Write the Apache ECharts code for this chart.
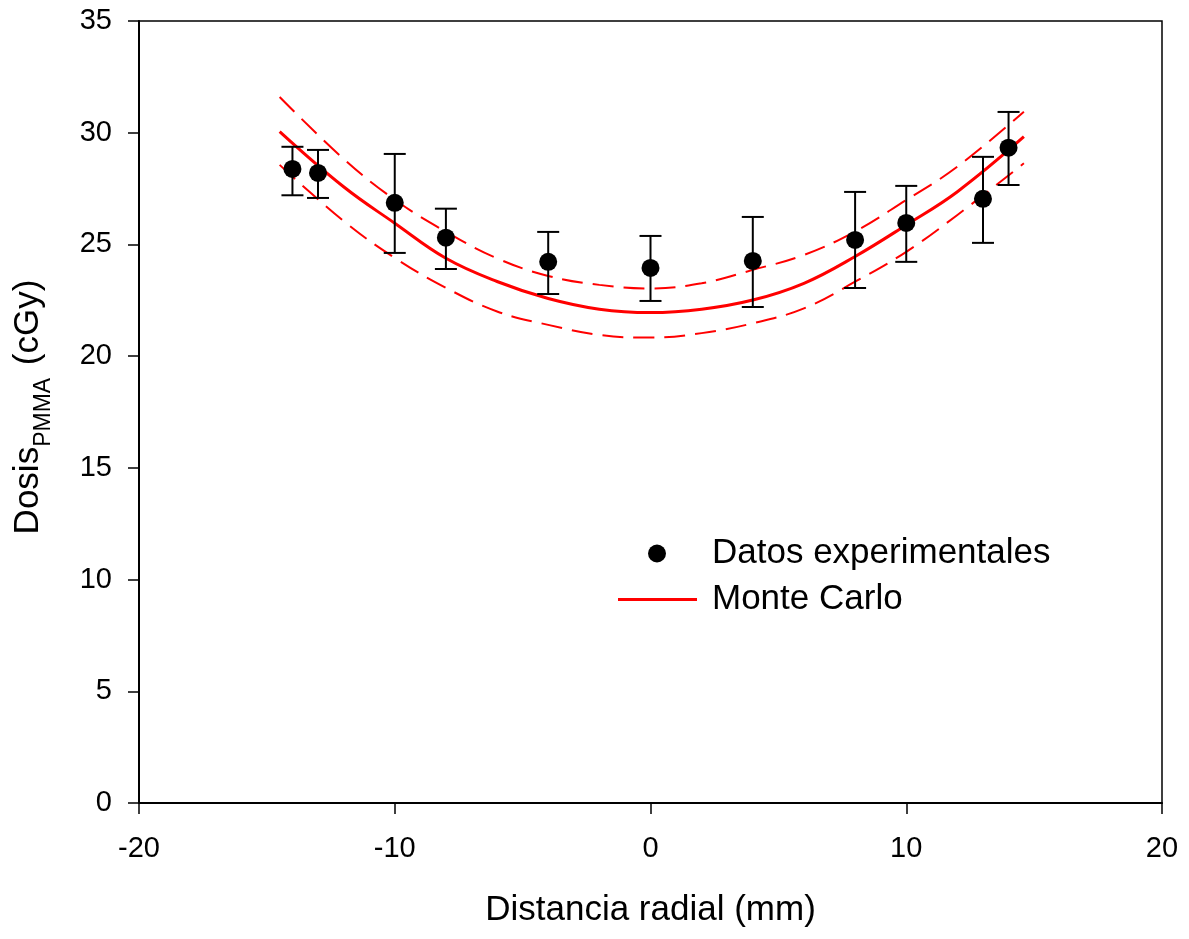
<!DOCTYPE html>
<html>
<head>
<meta charset="utf-8">
<script src="https://cdn.jsdelivr.net/npm/echarts@6/dist/echarts.min.js"></script>
<style>html,body{margin:0;padding:0;background:#fff}#c{width:1189px;height:939px}</style>
</head>
<body>
<div id="c"></div>
<script>
// Experimental data
const expX = [-14, -13, -10, -8, -4, 0, 4, 8, 10, 13, 14];
const expY = [28.38, 28.2, 26.86, 25.3, 24.22, 23.95, 24.26, 25.2, 25.96, 27.04, 29.33];
const expHi = [29.37, 29.23, 29.05, 26.6, 25.56, 25.38, 26.23, 27.35, 27.62, 28.92, 30.93];
const expLo = [27.2, 27.08, 24.62, 23.9, 22.78, 22.47, 22.2, 23.05, 24.22, 25.07, 27.66];

// Monte Carlo curves (central and upper/lower bounds)
const mcX = [-14.5, -12, -10, -8, -6, -4, -2, 0, 2, 4, 6, 8, 10, 12, 14.6];
const mcY = [30.05, 27.58, 25.95, 24.38, 23.34, 22.58, 22.1, 21.95, 22.1, 22.51, 23.26, 24.46, 25.87, 27.36, 29.82];
const mcUp = [31.6, 28.83, 27.0, 25.57, 24.38, 23.59, 23.19, 23.03, 23.26, 23.86, 24.53, 25.58, 26.99, 28.48, 30.94];
const mcLo = [28.56, 26.05, 24.4, 23.06, 22.0, 21.4, 20.95, 20.83, 21.03, 21.47, 22.14, 23.33, 24.67, 26.32, 28.63];

const xTicks = [-20, -10, 0, 10, 20];
const yTicks = [0, 5, 10, 15, 20, 25, 30, 35];

const pairs = (xs, ys) => xs.map((x, i) => [x, ys[i]]);
const font = '"Liberation Sans", Arial, sans-serif';

const chart = echarts.init(document.getElementById('c'));
chart.setOption({
  animation: false,
  backgroundColor: '#fff',
  grid: { left: 139, right: 27, top: 21, bottom: 136, show: true, borderColor: '#000', borderWidth: 1.5, backgroundColor: 'transparent' },
  xAxis: {
    type: 'value', min: xTicks[0], max: xTicks[xTicks.length - 1], interval: 10,
    name: 'Distancia radial (mm)', nameLocation: 'middle', nameGap: 90,
    nameTextStyle: { fontFamily: font, fontSize: 35, color: '#000' },
    axisLine: { show: true, onZero: false, lineStyle: { color: '#000', width: 2 } },
    axisTick: { show: true, inside: false, length: 11, lineStyle: { color: '#000', width: 1.5 } },
    axisLabel: { fontFamily: font, fontSize: 29, color: '#000', margin: 31 },
    splitLine: { show: false }
  },
  yAxis: {
    type: 'value', min: yTicks[0], max: yTicks[yTicks.length - 1], interval: 5,
    name: '{s|Dosis}{b|PMMA}{a| (cGy)}', nameLocation: 'middle', nameGap: 93, nameRotate: 90,
    nameTextStyle: {
      fontFamily: font, fontSize: 35, color: '#000',
      rich: {
        s: { fontFamily: font, fontSize: 35, color: '#000', padding: [0, 0, 0, 10] },
        a: { fontFamily: font, fontSize: 35, color: '#000', padding: [0, 0, 0, 3] },
        b: { fontFamily: font, fontSize: 23, color: '#000', verticalAlign: 'bottom', padding: [0, 0, -9, 0] }
      }
    },
    axisLine: { show: true, onZero: false, lineStyle: { color: '#000', width: 2 } },
    axisTick: { show: true, inside: false, length: 11, lineStyle: { color: '#000', width: 1.5 } },
    axisLabel: { fontFamily: font, fontSize: 29, color: '#000', margin: 27 },
    splitLine: { show: false }
  },
  legend: [
    {
      data: [{ name: 'Datos experimentales', icon: 'circle' }],
      left: 643, top: 531, itemWidth: 18, itemHeight: 18, itemGap: 0,
      textStyle: { fontFamily: font, fontSize: 35, color: '#000', padding: [0, 0, 0, 41] },
      selectedMode: false
    },
    {
      data: [{ name: 'Monte Carlo', icon: 'rect', itemStyle: { color: '#ff0000', borderWidth: 0 } }],
      left: 613, top: 577, itemWidth: 79, itemHeight: 3, itemGap: 0,
      itemStyle: { color: '#ff0000', borderWidth: 0 },
      lineStyle: { width: 0, opacity: 0 },
      textStyle: { fontFamily: font, fontSize: 35, color: '#000', padding: [0, 0, 0, 10] },
      selectedMode: false
    }
  ],
  series: [
    {
      name: 'Monte Carlo', type: 'line', smooth: 0.4, showSymbol: false, symbol: 'none',
      data: pairs(mcX, mcY), lineStyle: { color: '#ff0000', width: 3 }, itemStyle: { color: '#ff0000' }, z: 3
    },
    {
      name: 'MC sup', type: 'line', smooth: 0.4, showSymbol: false, symbol: 'none',
      data: pairs(mcX, mcUp), lineStyle: { color: '#ff0000', width: 2, type: [21, 10] }, z: 3
    },
    {
      name: 'MC inf', type: 'line', smooth: 0.4, showSymbol: false, symbol: 'none',
      data: pairs(mcX, mcLo), lineStyle: { color: '#ff0000', width: 2, type: [21, 10] }, z: 3
    },
    {
      name: 'err', type: 'custom',
      data: expX.map((x, i) => [x, expLo[i], expHi[i]]),
      renderItem: function (params, api) {
        const x = api.value(0);
        const lo = api.coord([x, api.value(1)]);
        const hi = api.coord([x, api.value(2)]);
        const hw = 11;
        const st = { stroke: '#000', lineWidth: 2 };
        return {
          type: 'group', children: [
            { type: 'line', shape: { x1: lo[0], y1: lo[1], x2: hi[0], y2: hi[1] }, style: st },
            { type: 'line', shape: { x1: lo[0] - hw, y1: lo[1], x2: lo[0] + hw, y2: lo[1] }, style: st },
            { type: 'line', shape: { x1: hi[0] - hw, y1: hi[1], x2: hi[0] + hw, y2: hi[1] }, style: st }
          ]
        };
      },
      z: 4
    },
    {
      name: 'Datos experimentales', type: 'scatter', symbol: 'circle', symbolSize: 18,
      data: pairs(expX, expY), itemStyle: { color: '#000', opacity: 1 }, z: 5
    }
  ]
});
</script>
</body>
</html>
